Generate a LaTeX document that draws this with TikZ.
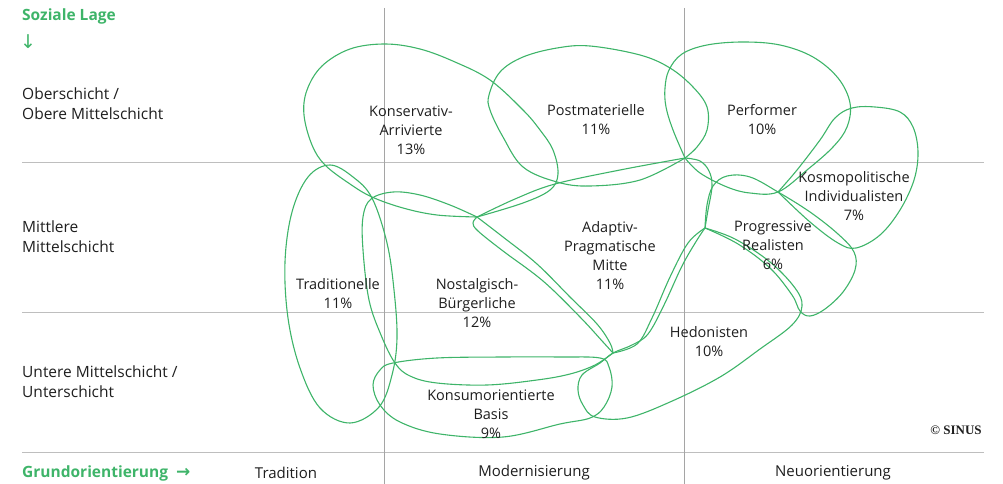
\documentclass[tikz,border=0pt]{standalone}
\usepackage{fontspec}
\setmainfont{Open Sans}
\newfontfamily\symfont{DejaVu Sans}
\newfontfamily\serifb{Liberation Serif}
\definecolor{sgreen}{RGB}{62,180,105}
\definecolor{gridgray}{RGB}{190,190,190}
\definecolor{vgray}{RGB}{165,165,165}
\definecolor{txt}{RGB}{30,30,30}
\begin{document}
\begin{tikzpicture}[x=1pt,y=-1pt,
  seg/.style={draw=sgreen,line width=1.1pt,line join=round},
  gridline/.style={draw=gridgray,line width=1pt},
  vline/.style={draw=vgray,line width=1pt},
  lab/.style={text=txt,align=center,inner sep=0pt,font=\fontsize{14.5}{19}\selectfont},
  rowlab/.style={text=txt,align=left,anchor=west,inner sep=0pt,font=\fontsize{15.5}{20}\selectfont},
  head/.style={text=sgreen,anchor=west,inner sep=0pt,font=\fontsize{15.5}{18}\selectfont\bfseries},
  collab/.style={text=txt,inner sep=0pt,font=\fontsize{15}{18}\selectfont}]
\useasboundingbox (0,0) rectangle (1003,484);
% grid
\draw[gridline] (22,162) -- (984,162);
\draw[gridline] (22,312) -- (984,312);
\draw[gridline] (22,452) -- (984,452);
\draw[vline] (384,8) -- (384,484);
\draw[vline] (684,8) -- (684,484);
% Konservativ-Arrivierte
\draw[seg] plot[smooth,tension=0.6] coordinates {(477,217) (523,203) (550,190) (558,174) (553,150) (540,130) (523,110) (490,80) (455,62) (420,49) (385,44) (350,49) (322,66) (307,90) (304,115) (312,145) (325,165) (350,184) (372,197) (403,208) (437,215) (477,217)};
% Postmaterielle
\draw[seg] plot[smooth,tension=0.6] coordinates {(685,158) (640,180) (590,186) (557,182) (523,167) (503,137) (490,110) (489,95) (500,72) (523,57) (557,48) (590,46) (640,55) (670,68) (693,87) (707,107) (707,130) (697,147) (685,158)};
% Performer
\draw[seg] plot[smooth,tension=0.6] coordinates {(685,158) (673,130) (666,107) (665,88) (669,70) (682,54) (707,45) (743,42) (780,45) (813,57) (838,78) (850,103) (847,127) (833,147) (807,170) (778,192) (750,193) (727,187) (700,173) (685,158)};
% Kosmopolitische Individualisten
\draw[seg] plot[smooth,tension=0.6] coordinates {(778,192) (797,170) (820,140) (835,118) (852,108) (875,107) (900,112) (913,127) (918,152) (914,180) (900,210) (880,235) (856,248) (838,243) (810,222) (778,192)};
% Progressive Realisten
\draw[seg] plot[smooth,tension=0.6] coordinates {(705,228) (707,205) (713,186) (727,176) (750,177) (778,192) (810,212) (838,234) (854,252) (855,270) (843,292) (825,309) (810,316) (800,311) (792,295) (770,268) (738,244) (705,228)};
% Traditionelle
\draw[seg] plot[smooth cycle,tension=0.6] coordinates {(330,165) (353,177) (372,198) (387,243) (394,290) (397,338) (392,375) (379,407) (350,423) (320,408) (300,368) (288,318) (285,262) (292,212) (308,177)};
% Nostalgisch-Buergerliche
\draw[seg] plot[smooth,tension=0.6] coordinates {(477,217) (503,237) (537,264) (570,297) (597,324) (610,343) (613,353)}
  -- plot[smooth,tension=0.6] coordinates {(613,353) (595,365) (570,374) (537,380) (487,385) (437,383) (410,376) (395,363) (381,335) (369,300) (363,250) (363,217) (371,199) (393,192) (420,195) (450,205) (477,217)};
% Adaptiv-Pragmatische Mitte
\draw[seg] plot[smooth,tension=0.6] coordinates {(477,217) (515,199) (555,184) (620,170) (685,158)}
  -- plot[smooth,tension=0.6] coordinates {(685,158) (700,161) (709,171) (712,186) (708,210) (705,228)}
  -- plot[smooth,tension=0.6] coordinates {(705,228) (688,243) (670,277) (652,318) (637,344) (613,353)}
  -- plot[smooth,tension=0.6] coordinates {(613,353) (603,342) (580,317) (543,281) (503,251) (478,231) (473,223) (477,217)};
% Hedonisten
\draw[seg] plot[smooth,tension=0.6] coordinates {(705,228) (735,239) (770,262) (795,288) (802,306) (792,325) (760,349) (720,377) (670,402) (627,418) (595,417) (583,405) (578,390) (582,375) (600,363) (613,353) (632,345) (648,334) (664,305) (682,266) (697,240) (705,228)};
% Konsumorientierte Basis
\draw[seg] plot[smooth cycle,tension=0.6] coordinates {(393,363) (437,358) (503,357) (560,357) (600,358) (609,367) (612,387) (604,407) (590,418) (560,424) (503,437) (440,434) (400,422) (380,405) (373,385) (380,370)};
% segment labels
\node[lab] (konserv) at (411,130) {Konservativ-\\Arrivierte\\13\%};
\node[lab] (postmat) at (596,120) {Postmaterielle\\11\%};
\node[lab] (perf) at (762,120) {Performer\\10\%};
\node[lab] (kosmo) at (854,196) {Kosmopolitische\\Individualisten\\7\%};
\node[lab] (progr) at (773,245) {Progressive\\Realisten\\6\%};
\node[lab] (adapt) at (610,256) {Adaptiv-\\Pragmatische\\Mitte\\11\%};
\node[lab] (trad) at (338,294) {Traditionelle\\11\%};
\node[lab] (nostal) at (477,303) {Nostalgisch-\\B\"urgerliche\\12\%};
\node[lab] (hedo) at (709,342) {Hedonisten\\10\%};
\node[lab] (konsum) at (491,414) {Konsumorientierte\\Basis\\9\%};
% row labels
\node[rowlab] (ober) at (22,104) {Oberschicht /\\Obere Mittelschicht};
\node[rowlab] (mitte) at (22,237) {Mittlere\\Mittelschicht};
\node[rowlab] (unter) at (22,382) {Untere Mittelschicht /\\Unterschicht};
% headers
\node[head] (sozlage) at (22,16) {Soziale Lage};
\node[text=sgreen,inner sep=0pt,font=\fontsize{19}{20}\symfont] (pfeil) at (28,42) {↓};
\node[head] (grund) at (22,473) {Grundorientierung\ \ {\symfont\fontsize{17}{18}\selectfont →}};
\node[collab] (tradition) at (286,473) {Tradition};
\node[collab] (modern) at (534,473) {Modernisierung};
\node[collab] (neu) at (833,473) {Neuorientierung};
\node[text=txt,inner sep=0pt,font=\fontsize{13}{14}\serifb\bfseries] (sinus) at (956,430) {\textcopyright\ SINUS};
\end{tikzpicture}
\end{document}
